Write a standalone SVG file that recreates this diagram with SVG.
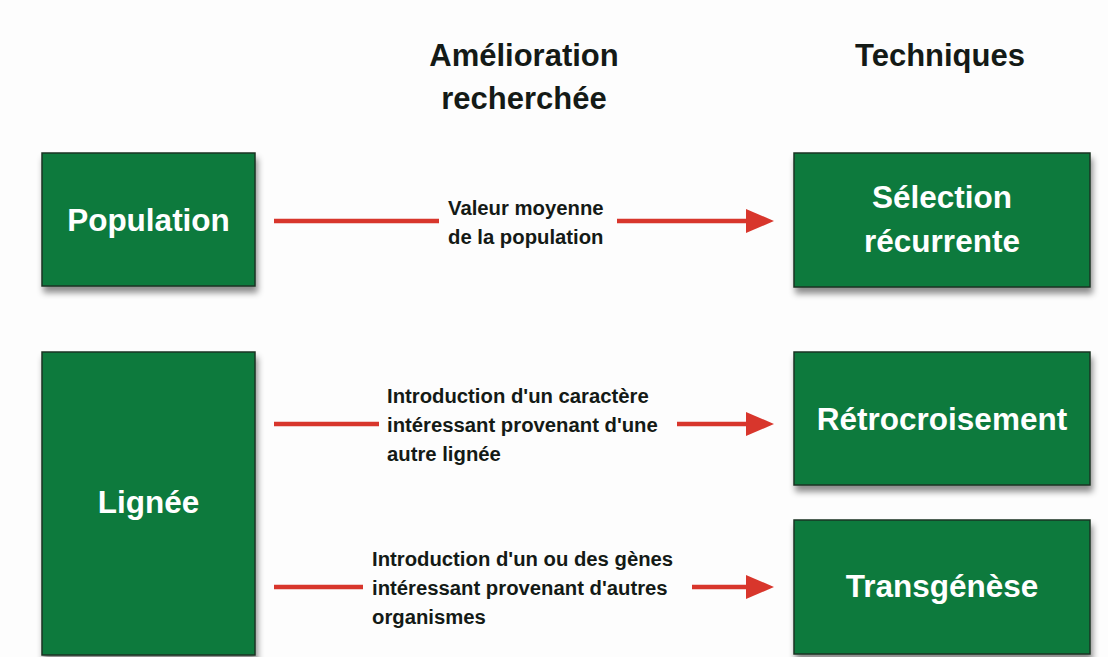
<svg xmlns="http://www.w3.org/2000/svg" width="1108" height="657" viewBox="0 0 1108 657">
<style>
.box{fill:#0a7a3c;stroke:#1b3324;stroke-width:1.5;filter:url(#sh)}
.bt{font-family:"Liberation Sans",Arial,sans-serif;font-weight:bold;font-size:31.5px;fill:#ffffff;text-anchor:middle}
.hd{font-family:"Liberation Sans",Arial,sans-serif;font-weight:bold;font-size:31px;fill:#141a16;text-anchor:middle}
.lb{font-family:"Liberation Sans",Arial,sans-serif;font-weight:bold;font-size:20.3px;fill:#141a16}
.ln{stroke:#d8362c;stroke-width:4.5;fill:none}
</style>
<defs>
<filter id="sh" x="-10%" y="-10%" width="125%" height="130%">
<feDropShadow dx="2" dy="6" stdDeviation="3" flood-color="#000" flood-opacity="0.45"/>
</filter>
<marker id="ah" markerUnits="userSpaceOnUse" markerWidth="28" markerHeight="26" refX="0" refY="12" orient="auto">
<path d="M0,0 L28,12 L0,24 Z" fill="#d8362c"/>
</marker>
</defs>
<rect width="1108" height="657" fill="#fdfdfd"/>
<g id="headings">
<text class="hd" x="524" y="66">Amélioration</text>
<text class="hd" x="524" y="109">recherchée</text>
<text class="hd" x="940" y="66">Techniques</text>
</g>
<g id="node-population">
<rect class="box" x="42" y="153" width="213" height="133"/>
<text class="bt" x="148.5" y="231">Population</text>
</g>
<g id="node-lignee">
<rect class="box" x="42" y="352" width="213" height="303"/>
<text class="bt" x="148.5" y="513">Lignée</text>
</g>
<g id="node-selection">
<rect class="box" x="794" y="153" width="296" height="134"/>
<text class="bt" x="942" y="208">Sélection</text>
<text class="bt" x="942" y="252">récurrente</text>
</g>
<g id="node-retro">
<rect class="box" x="794" y="352" width="296" height="133"/>
<text class="bt" x="942" y="430">Rétrocroisement</text>
</g>
<g id="node-transgenese">
<rect class="box" x="794" y="520" width="296" height="134"/>
<text class="bt" x="942" y="597">Transgénèse</text>
</g>
<g id="connectors">
<line class="ln" x1="274" y1="221" x2="439" y2="221"/>
<line class="ln" x1="617" y1="221" x2="746" y2="221" marker-end="url(#ah)"/>
<text class="lb" x="448" y="215">Valeur moyenne</text>
<text class="lb" x="448" y="244">de la population</text>
<line class="ln" x1="274" y1="424" x2="379" y2="424"/>
<line class="ln" x1="677" y1="424" x2="746" y2="424" marker-end="url(#ah)"/>
<text class="lb" x="387" y="403">Introduction d'un caractère</text>
<text class="lb" x="387" y="432">intéressant provenant d'une</text>
<text class="lb" x="387" y="461">autre lignée</text>
<line class="ln" x1="274" y1="587" x2="363" y2="587"/>
<line class="ln" x1="692" y1="587" x2="746" y2="587" marker-end="url(#ah)"/>
<text class="lb" x="372" y="566">Introduction d'un ou des gènes</text>
<text class="lb" x="372" y="595">intéressant provenant d'autres</text>
<text class="lb" x="372" y="624">organismes</text>
</g>
</svg>
